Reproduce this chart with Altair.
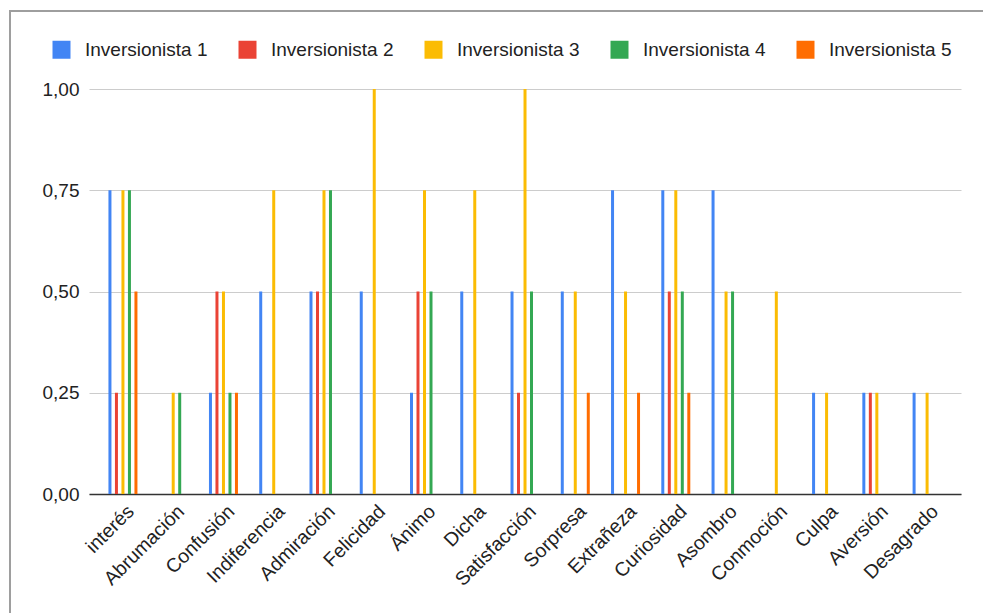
import altair as alt
import pandas as pd

categories = ["interés", "Abrumación", "Confusión", "Indiferencia", "Admiración",
              "Felicidad", "Ánimo", "Dicha", "Satisfacción", "Sorpresa", "Extrañeza",
              "Curiosidad", "Asombro", "Conmoción", "Culpa", "Aversión", "Desagrado"]
series = ["Inversionista 1", "Inversionista 2", "Inversionista 3",
          "Inversionista 4", "Inversionista 5"]
inv1 = [0.75, 0, 0.25, 0.5, 0.5, 0.5, 0.25, 0.5, 0.5, 0.5, 0.75, 0.75, 0.75, 0, 0.25, 0.25, 0.25]
inv2 = [0.25, 0, 0.5, 0, 0.5, 0, 0.5, 0, 0.25, 0, 0, 0.5, 0, 0, 0, 0.25, 0]
inv3 = [0.75, 0.25, 0.5, 0.75, 0.75, 1.0, 0.75, 0.75, 1.0, 0.5, 0.5, 0.75, 0.5, 0.5, 0.25, 0.25, 0.25]
inv4 = [0.75, 0.25, 0.25, 0, 0.75, 0, 0.5, 0, 0.5, 0, 0, 0.5, 0.5, 0, 0, 0, 0]
inv5 = [0.5, 0, 0.25, 0, 0, 0, 0, 0, 0, 0.25, 0.25, 0.25, 0, 0, 0, 0, 0]
colors = ["#4285F4", "#EA4335", "#FBBC04", "#34A853", "#FF6D01"]
y_ticks = [0, 0.25, 0.5, 0.75, 1.0]

rows = []
for s, vals in zip(series, [inv1, inv2, inv3, inv4, inv5]):
    for c, v in zip(categories, vals):
        rows.append({"Emoción": c, "Serie": s, "Valor": v})
df = pd.DataFrame(rows)

FONT = "Liberation Sans"

bars = alt.Chart(df).mark_bar(width=3).encode(
    x=alt.X("Emoción:N", sort=categories,
            scale=alt.Scale(paddingInner=0, paddingOuter=0.175),
            axis=alt.Axis(title=None, labelAngle=-45, labelAlign="right",
                          labelBaseline="middle", labelPadding=14, labelOffset=8,
                          ticks=False,
                          labelFontSize=19.5, labelColor="#222222", labelFont=FONT,
                          domainColor="#333333", domainWidth=1.5, grid=False)),
    xOffset=alt.XOffset("Serie:N", sort=series,
                        scale=alt.Scale(paddingInner=0, paddingOuter=0,
                                        range=[8.9, 41.4])),
    y=alt.Y("Valor:Q", scale=alt.Scale(domain=[0, 1]),
            axis=alt.Axis(title=None, values=y_ticks,
                          labelExpr="replace(format(datum.value, '.2f'), '.', ',')",
                          labelFontSize=19, labelColor="#222222", labelFont=FONT,
                          labelPadding=10, ticks=False, domain=False,
                          gridColor="#cccccc", gridWidth=1)),
    color=alt.Color("Serie:N", sort=series,
                    scale=alt.Scale(domain=series, range=colors),
                    legend=alt.Legend(title=None, orient="none", direction="horizontal",
                                      legendX=-37, legendY=-49,
                                      symbolType="square", symbolSize=324,
                                      symbolStrokeWidth=0, symbolOpacity=1,
                                      labelFontSize=19, labelFont=FONT,
                                      labelColor="#222222", labelOffset=14,
                                      columnPadding=30, padding=0)),
)

border = alt.Chart(pd.DataFrame({"k": [0]})).mark_rect(
    fill=None, stroke="#9e9e9e", strokeWidth=2
).encode(
    x=alt.value(-79), x2=alt.value(930),
    y=alt.value(-78), y2=alt.value(560),
)

chart = alt.layer(border, bars).properties(
    width=872, height=405,
    autosize=alt.AutoSizeParams(type="none"),
    padding={"left": 89, "top": 89, "right": 22, "bottom": 119},
).configure(background="white").configure_view(stroke=None)

chart.save("out.html", embed_options={"renderer": "svg", "actions": False})
